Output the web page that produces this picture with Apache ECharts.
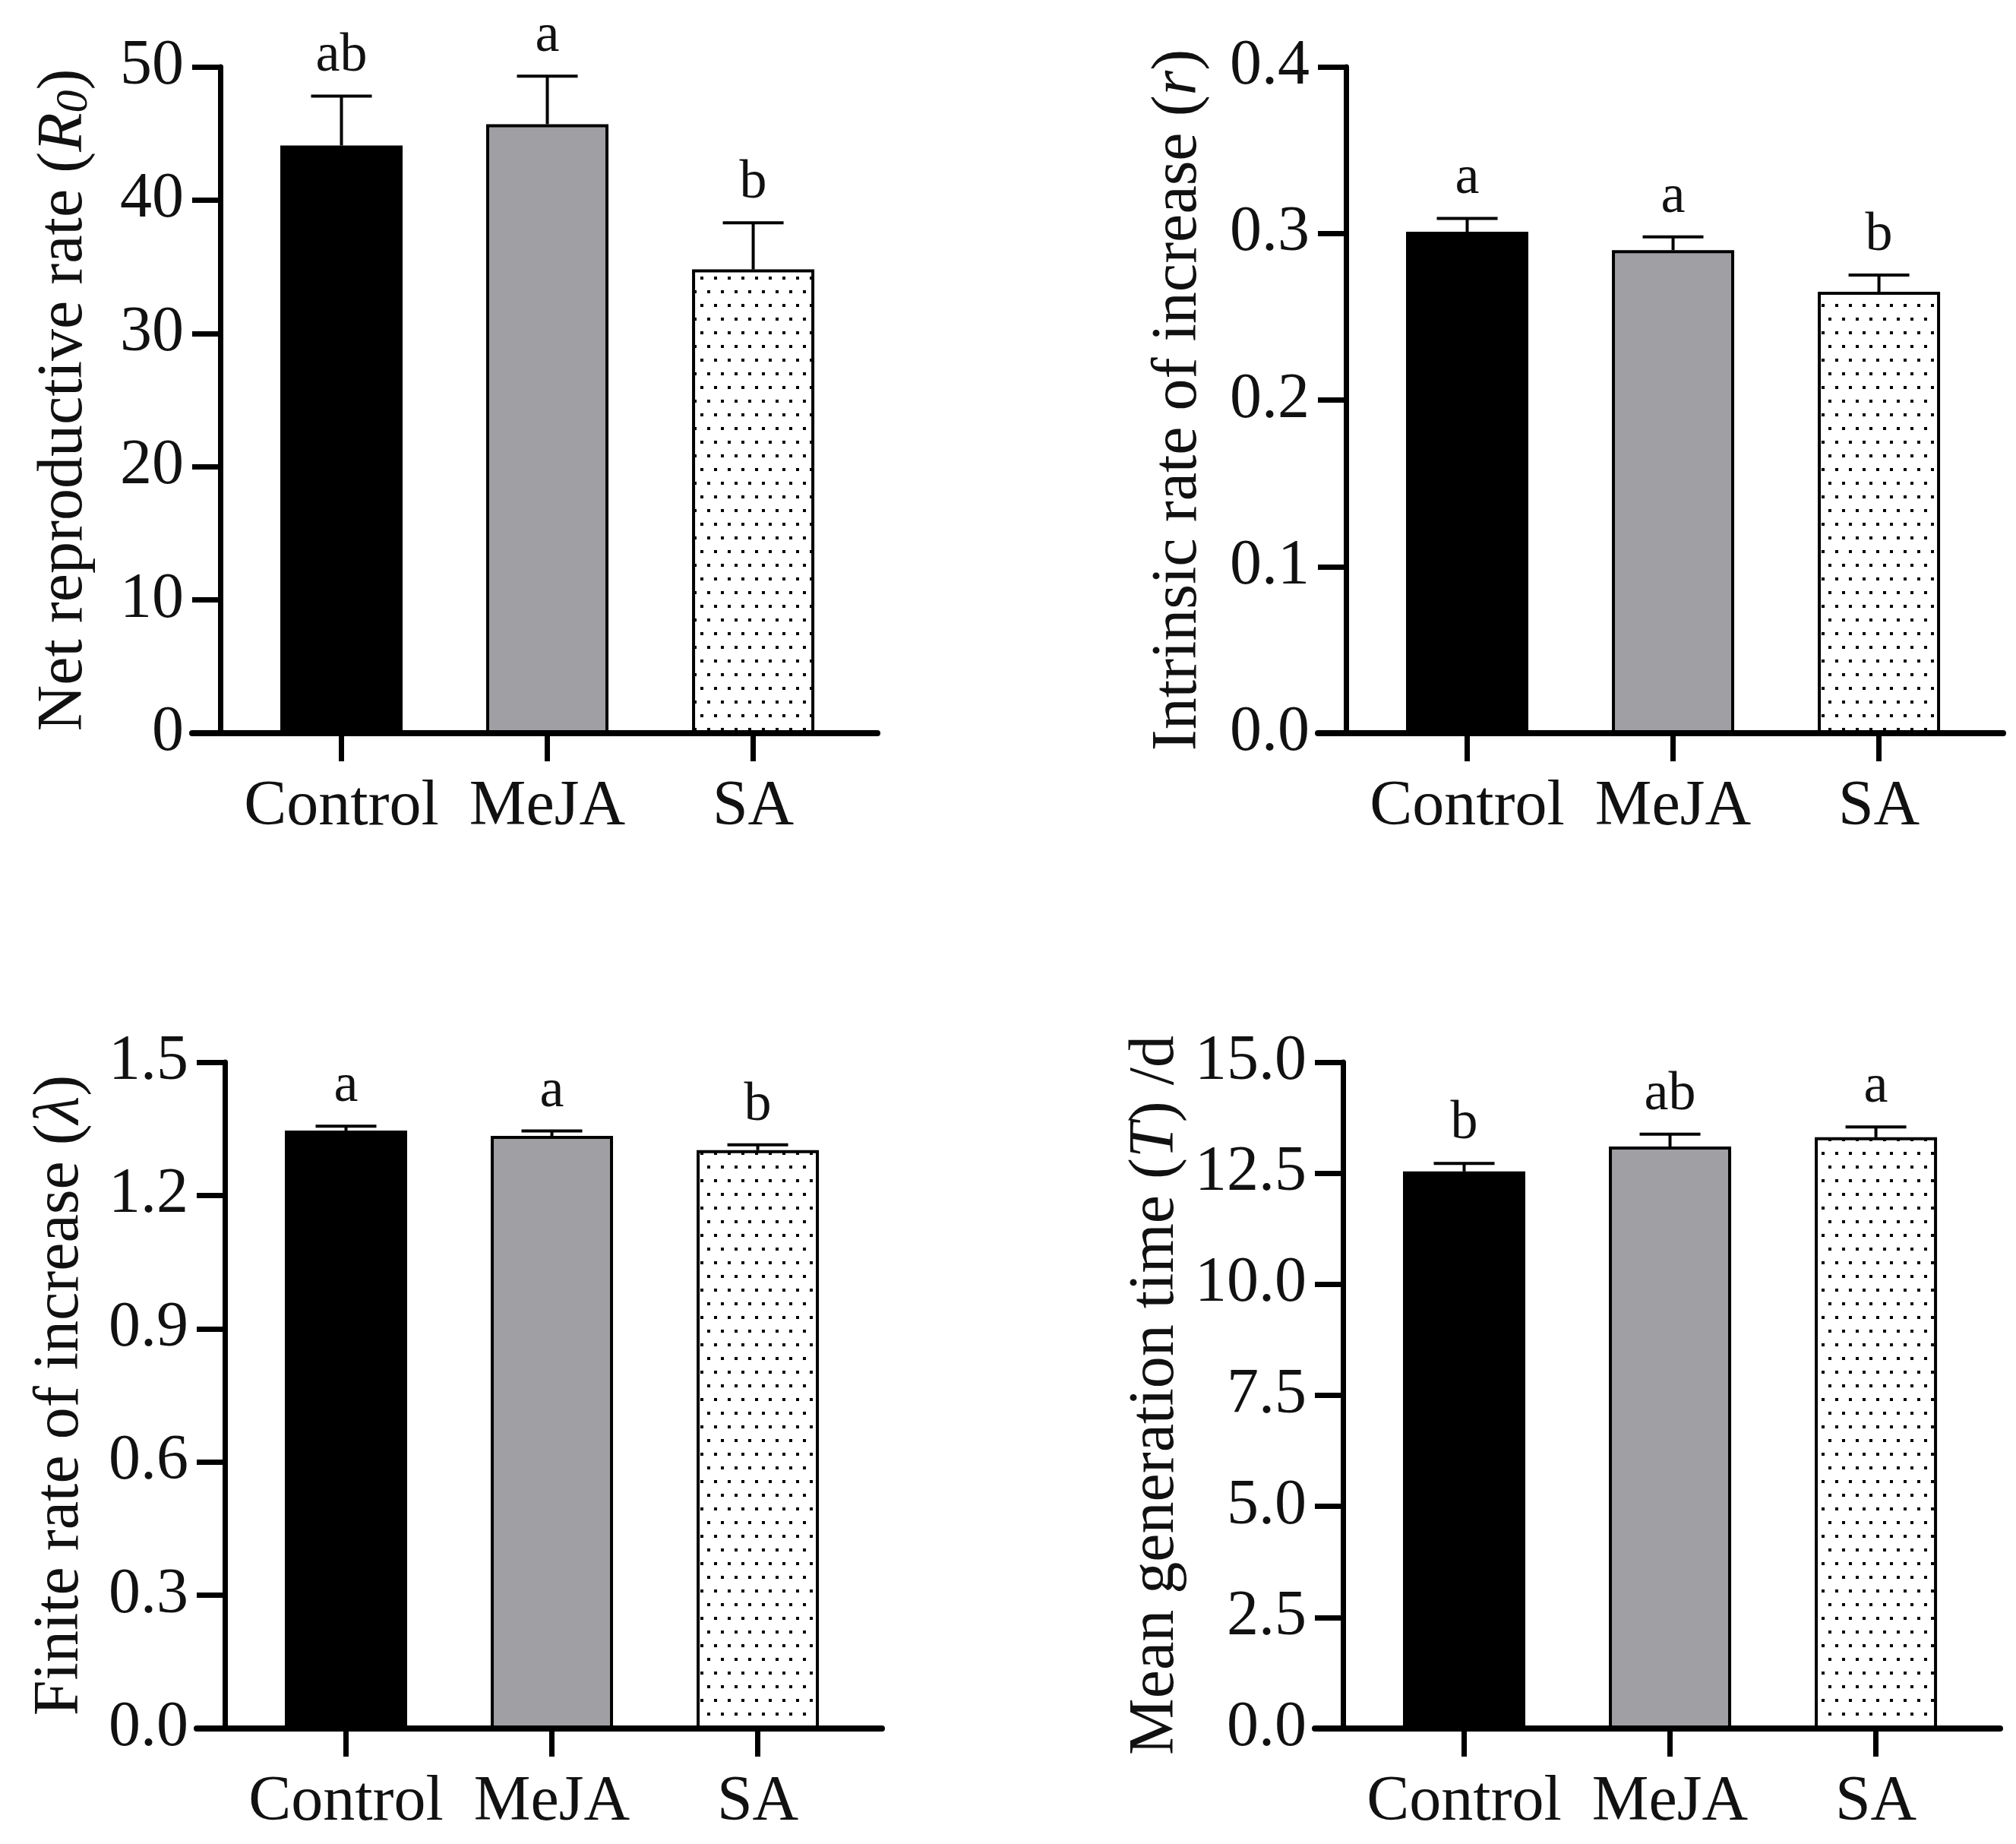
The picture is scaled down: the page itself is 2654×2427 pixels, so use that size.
<!DOCTYPE html>
<html>
<head>
<meta charset="utf-8">
<style>
  html, body { margin: 0; padding: 0; background: #fff; }
  #box { width: 2654px; height: 2427px; }
</style>
<script src="https://cdn.jsdelivr.net/npm/echarts@6.0.0/dist/echarts.min.js"></script>
</head>
<body>
<div id="box"></div>
<script>
// treatments on the x axis
var groups = ['Control', 'MeJA', 'SA'];

// Net reproductive rate R0
var r0Mean = [44.1, 45.7, 34.8];
var r0Err = [3.7, 3.6, 3.5];
var r0Letters = ['ab', 'a', 'b'];
var r0Ticks = [0, 10, 20, 30, 40, 50];

// Intrinsic rate of increase r
var rMean = [0.301, 0.290, 0.265];
var rErr = [0.008, 0.008, 0.010];
var rLetters = ['a', 'a', 'b'];
var rTicks = ['0.0', '0.1', '0.2', '0.3', '0.4'];

// Finite rate of increase lambda
var lamMean = [1.346, 1.334, 1.302];
var lamErr = [0.010, 0.011, 0.012];
var lamLetters = ['a', 'a', 'b'];
var lamTicks = ['0.0', '0.3', '0.6', '0.9', '1.2', '1.5'];

// Mean generation time T
var tMean = [12.54, 13.10, 13.31];
var tErr = [0.18, 0.28, 0.23];
var tLetters = ['b', 'ab', 'a'];
var tTicks = ['0.0', '2.5', '5.0', '7.5', '10.0', '12.5', '15.0'];

var font = '"Liberation Serif", "Times New Roman", serif';
var ink = '#111';

// dotted fill for the SA bars
var dots = document.createElement('canvas');
dots.width = 18; dots.height = 36;
var dctx = dots.getContext('2d');
dctx.fillStyle = '#fff';
dctx.fillRect(0, 0, 18, 36);
dctx.fillStyle = '#000';
dctx.fillRect(4, 4, 4, 4);
dctx.fillRect(13, 22, 4, 4);

var barFills = ['#000', '#a0a0a4', { image: dots, repeat: 'repeat' }];

var panels = [
  { mean: r0Mean, err: r0Err, letters: r0Letters, ticks: r0Ticks, digits: 0,
    name: 'Net reproductive rate ({it|R}{sub|0})', left: 253, top: 88, nameGap: 162 },
  { mean: rMean, err: rErr, letters: rLetters, ticks: rTicks, digits: 1,
    name: 'Intrinsic rate of increase ({it|r})', left: 1735, top: 88, nameGap: 178 },
  { mean: lamMean, err: lamErr, letters: lamLetters, ticks: lamTicks, digits: 1,
    name: 'Finite rate of increase ({it|λ})', left: 259, top: 1398, nameGap: 174 },
  { mean: tMean, err: tErr, letters: tLetters, ticks: tTicks, digits: 1,
    name: 'Mean generation time ({it|T}) /d', left: 1731, top: 1398, nameGap: 204 }
];

var xMin = -0.725, xMax = 2.603;

function errRender(letters) {
  return function (params, api) {
    var x = api.value(0), m = api.value(1), e = api.value(2);
    var p0 = api.coord([x, m]);
    var p1 = api.coord([x, m + e]);
    return {
      type: 'group',
      children: [
        { type: 'line', shape: { x1: p0[0], y1: p0[1], x2: p1[0], y2: p1[1] },
          style: { stroke: '#000', lineWidth: 4 } },
        { type: 'line', shape: { x1: p1[0] - 40, y1: p1[1], x2: p1[0] + 40, y2: p1[1] },
          style: { stroke: '#000', lineWidth: 4 } },
        { type: 'text', x: p1[0], y: p1[1] - 16,
          style: { text: letters[params.dataIndex], fontSize: 72, fontFamily: font,
                   fill: ink, align: 'center', verticalAlign: 'bottom' } }
      ]
    };
  };
}

var option = { animation: false, grid: [], xAxis: [], yAxis: [], series: [] };

panels.forEach(function (p, i) {
  var ticks = p.ticks.map(Number);
  var step = ticks[1] - ticks[0];
  option.grid.push({ left: p.left, top: p.top, width: 902, height: 877 });
  option.xAxis.push({
    type: 'value', gridIndex: i, min: xMin, max: xMax,
    splitLine: { show: false },
    axisLine: { show: true, onZero: false, lineStyle: { color: '#000', width: 8 } },
    axisTick: { show: true, length: 37, customValues: [0, 1, 2], lineStyle: { color: '#000', width: 7 } },
    axisLabel: {
      customValues: [0, 1, 2], margin: 56,
      formatter: function (v) { return groups[Math.round(v)]; },
      fontSize: 84, fontFamily: font, color: ink
    }
  });
  option.yAxis.push({
    type: 'value', gridIndex: i, min: 0, max: ticks[ticks.length - 1], interval: step,
    offset: -37,
    name: p.name, nameLocation: 'middle', nameGap: p.nameGap,
    nameTextStyle: {
      fontSize: 84, fontFamily: font, color: ink,
      rich: {
        it: { fontSize: 84, fontFamily: font, fontStyle: 'italic', color: ink },
        sub: { fontSize: 60, fontFamily: font, fontStyle: 'italic', color: ink, padding: [26, 0, 0, 0] }
      }
    },
    splitLine: { show: false },
    axisLine: { show: true, onZero: false, lineStyle: { color: '#000', width: 7 } },
    axisTick: { show: true, length: 37, lineStyle: { color: '#000', width: 7 } },
    axisLabel: {
      margin: 48, fontSize: 84, fontFamily: font, color: ink,
      formatter: function (v) { return v.toFixed(p.digits); }
    }
  });
  option.series.push({
    type: 'bar', xAxisIndex: i, yAxisIndex: i, barWidth: 161,
    data: p.mean.map(function (v, k) {
      return { value: [k, v], itemStyle: { color: barFills[k], borderColor: '#000', borderWidth: 4 } };
    })
  });
  option.series.push({
    type: 'custom', xAxisIndex: i, yAxisIndex: i, z: 5,
    encode: { x: 0, y: 1 },
    renderItem: errRender(p.letters),
    data: p.mean.map(function (v, k) { return [k, v, p.err[k]]; })
  });
});

var chart = echarts.init(document.getElementById('box'));
chart.setOption(option);
</script>
</body>
</html>
